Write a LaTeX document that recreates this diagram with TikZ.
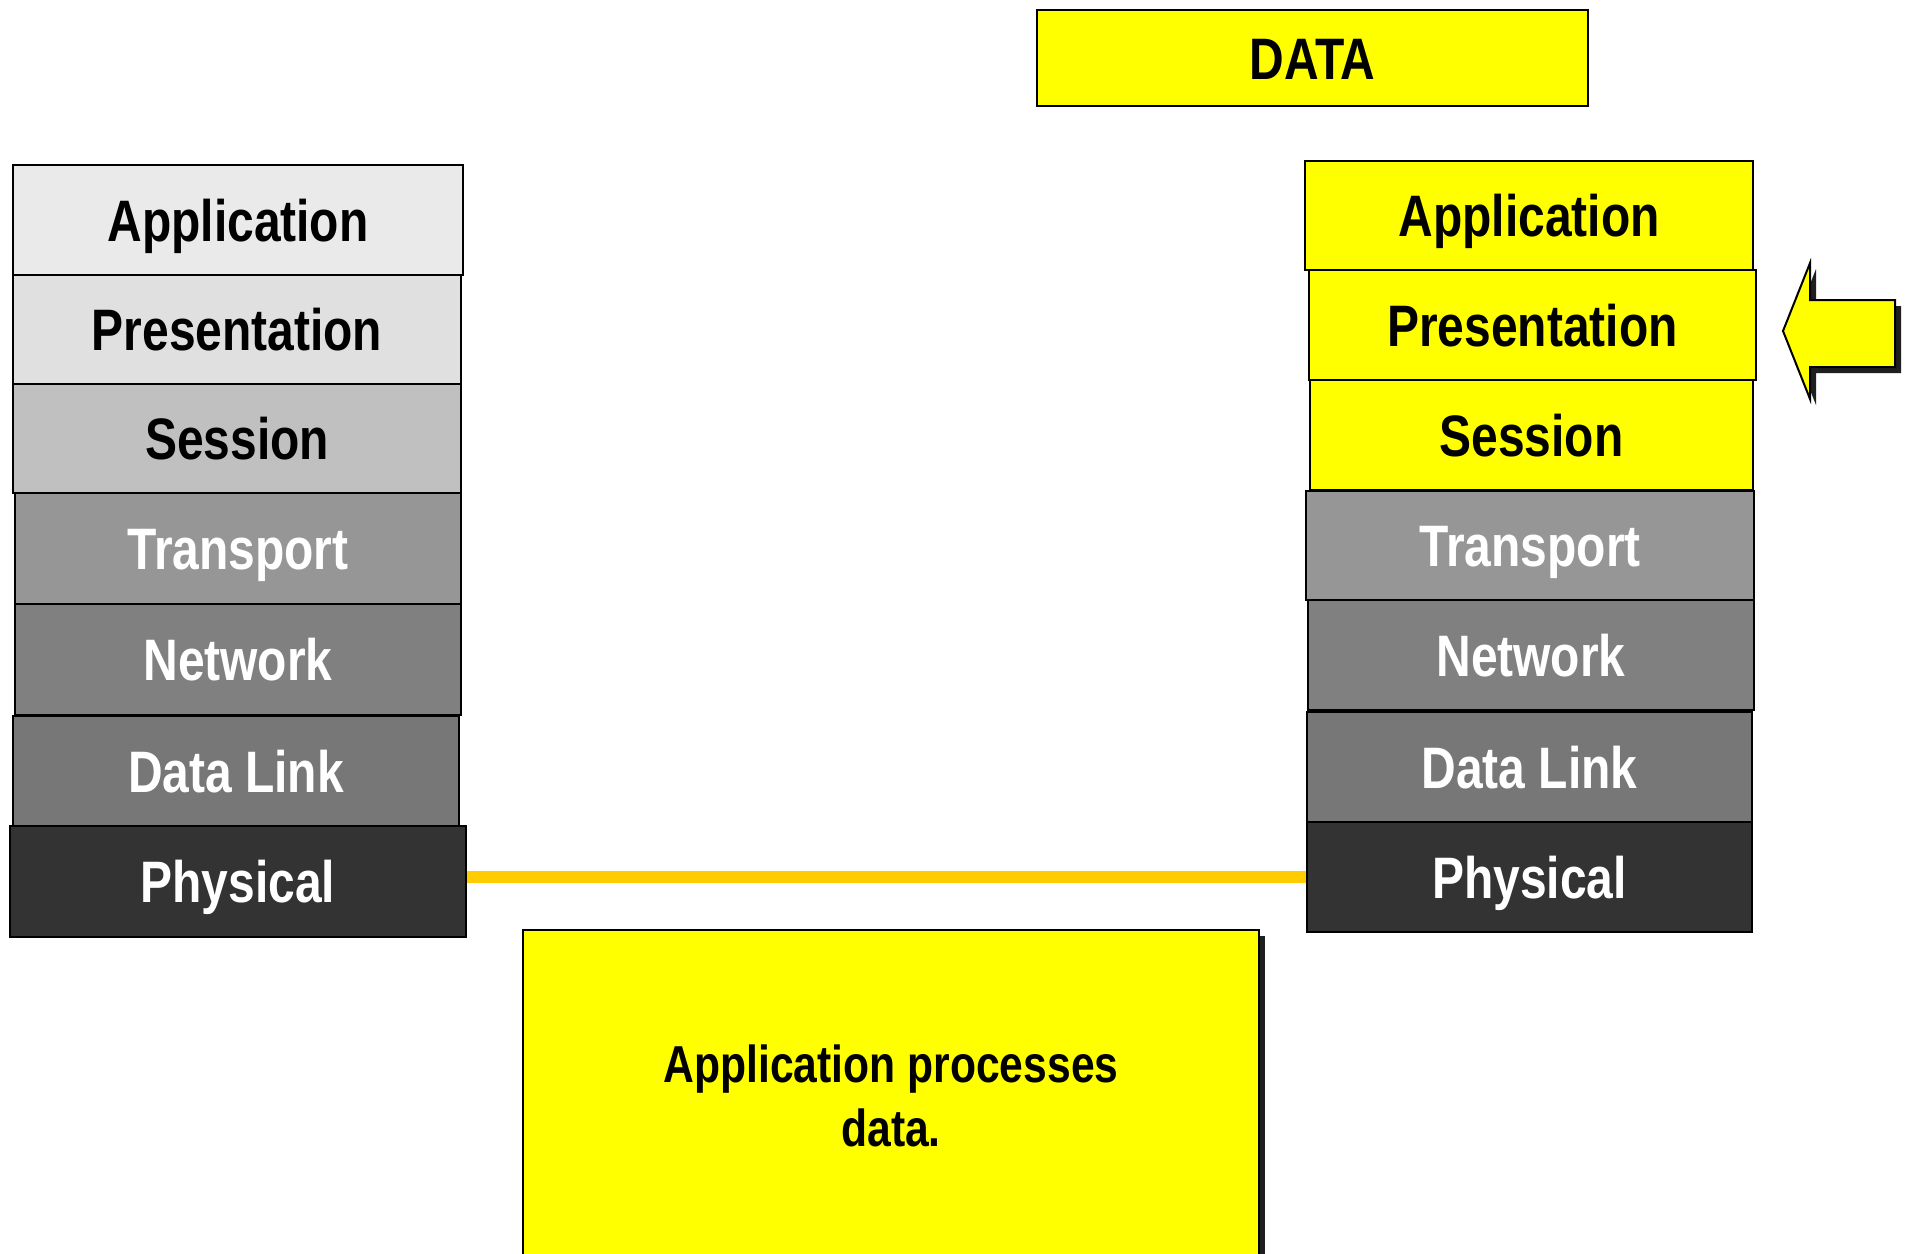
\documentclass[tikz,border=0pt]{standalone}
\usepackage{fontspec}
\setmainfont{Liberation Sans}[FakeStretch=0.82]
\usetikzlibrary{shadows}
\definecolor{appgray}{HTML}{EAEAEA}
\definecolor{pregray}{HTML}{E0E0E0}
\definecolor{sesgray}{HTML}{C0C0C0}
\definecolor{tragray}{HTML}{969696}
\definecolor{netgray}{HTML}{808080}
\definecolor{dlgray}{HTML}{777777}
\definecolor{phygray}{HTML}{333333}
\definecolor{hiyellow}{HTML}{FFFF00}
\definecolor{wire}{HTML}{FFCC00}
\begin{document}
\begin{tikzpicture}[x=1pt,y=-1pt,
  layer/.style={draw=black, line width=2.5pt, inner sep=0pt,
    font=\bfseries\fontsize{58.5}{70}\selectfont,
    text height=42pt, text depth=0pt},
  dark/.style={layer, text=white},
  lit/.style={layer, fill=hiyellow},
  link/.style={draw=wire, line width=12pt},
  shadowed/.style={drop shadow={shadow xshift=6pt, shadow yshift=-6pt,
    opacity=1, fill=black!88}}]
\useasboundingbox (0,0) rectangle (1906,1253);
\fill[white] (0,0) rectangle (1906,1253);

% sending stack
\node[layer, fill=appgray, minimum width=450pt, minimum height=110pt] (LApp) at (238,220) {Application};
\node[layer, fill=pregray, minimum width=448pt, minimum height=109pt] (LPre) at (237,329.5) {Presentation};
\node[layer, fill=sesgray, minimum width=448pt, minimum height=109pt] (LSes) at (237,438.5) {Session};
\node[dark, fill=tragray, minimum width=446pt, minimum height=111pt] (LTra) at (238,548.5) {Transport};
\node[dark, fill=netgray, minimum width=446pt, minimum height=111pt] (LNet) at (238,659.5) {Network};
\node[dark, fill=dlgray, minimum width=446pt, minimum height=110pt] (LDL) at (236,771) {Data Link};
\node[dark, fill=phygray, minimum width=456pt, minimum height=111pt] (LPhy) at (238,881.5) {Physical};

% receiving stack
\node[lit, minimum width=448pt, minimum height=109pt] (RApp) at (1529,215.5) {Application};
\node[lit, minimum width=447pt, minimum height=110pt] (RPre) at (1532.5,325) {Presentation};
\node[lit, minimum width=443pt, minimum height=110pt] (RSes) at (1531.5,435) {Session};
\node[dark, fill=tragray, minimum width=448pt, minimum height=109pt] (RTra) at (1530,545.5) {Transport};
\node[dark, fill=netgray, minimum width=446pt, minimum height=110pt] (RNet) at (1531,655) {Network};
\node[dark, fill=dlgray, minimum width=445pt, minimum height=110pt] (RDL) at (1529.5,767) {Data Link};
\node[dark, fill=phygray, minimum width=445pt, minimum height=110pt] (RPhy) at (1529.5,877) {Physical};

% physical medium
\draw[link] (LPhy.east |- RPhy.west) -- (RPhy.west);

% data unit
\node[lit, minimum width=551pt, minimum height=96pt] (data) at (1312.5,58) {DATA};

% explanation box
\node[lit, shadowed, minimum width=736pt, minimum height=332pt, align=center,
  font=\bfseries\fontsize{52}{64}\selectfont, text height=, text depth=]
  (note) at (891,1096) {Application processes\\data.};

% pointer to the active layer
\fill[black!88, shift={(6,6)}] (1783,331) -- (1810,263) -- (1810,300) -- (1895,300)
  -- (1895,367) -- (1810,367) -- (1810,399) -- cycle;
\draw[fill=hiyellow, line width=2pt, line join=miter] (1783,331) -- (1810,263) -- (1810,300) -- (1895,300)
  -- (1895,367) -- (1810,367) -- (1810,399) -- cycle;
\end{tikzpicture}
\end{document}
